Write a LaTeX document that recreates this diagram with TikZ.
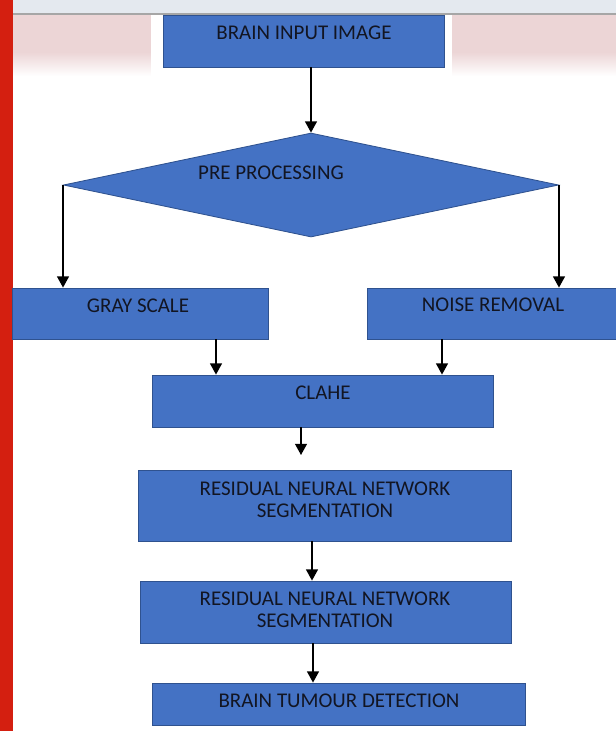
\documentclass[tikz,border=0pt]{standalone}
\usepackage{fontspec}
\setmainfont{Carlito}
\usetikzlibrary{shapes.geometric,arrows.meta,fit}
\definecolor{boxblue}{HTML}{4472C4}
\definecolor{boxline}{HTML}{2F528F}
\definecolor{barred}{HTML}{D41F10}
\definecolor{bandpink}{HTML}{ECD5D6}
\definecolor{stripgray}{HTML}{E4E9EF}
\definecolor{txtdark}{HTML}{121522}

\begin{document}
\begin{tikzpicture}[x=0.025cm,y=-0.025cm]
		%\draw[help lines] (0,0) grid (616,731);
		\tikzset{
		box/.style 		= {draw=boxline, fill=boxblue, line width=0.6pt, inner sep=0pt},
		decision/.style = {diamond, draw=boxline, fill=boxblue, line width=0.6pt, inner sep=0pt},
		lbl/.style 		= {text=txtdark, font=\fontsize{14.9}{16}\selectfont, align=center, inner sep=0pt},
		arr/.style 		= {draw=black, line width=1.1pt, -{Triangle[length=8pt,width=8.5pt]}}}
		\useasboundingbox (0,0) rectangle (616,731);

		\fill[barred] (0,0) rectangle (13,731);
		\fill[stripgray] (13,0) rectangle (616,14);
		\draw[gray!70, line width=1pt] (13,14) -- (616,14);
		\fill[bandpink] (13,15) rectangle (616,52);
		\shade[top color=bandpink, bottom color=white] (13,52) rectangle (616,76);
		\fill[white] (151,15) rectangle (452,76);

		\node[box, fit={(163,15) (444,67)}] (input) {};
		\node[lbl] (input-t) at (304,33) {BRAIN INPUT IMAGE};

		\node[decision, minimum width=12.375cm, minimum height=2.6cm] (pre) at (311,185) {};
		\node[lbl] (pre-t) at (271,173) {PRE PROCESSING};

		\node[box, fit={(12,288) (268,339)}] (gray) {};
		\node[lbl] (gray-t) at (138,306) {GRAY SCALE};
		\node[box, fit={(367,288) (620,339)}] (noise) {};
		\node[lbl] (noise-t) at (493,305) {NOISE REMOVAL};

		\node[box, fit={(152,375) (493,427)}] (clahe) {};
		\node[lbl] (clahe-t) at (323,393) {CLAHE};

		\node[box, fit={(138,470) (511,541)}] (res1) {};
		\node[lbl] (res1-t) at (325,500) {RESIDUAL NEURAL NETWORK\\SEGMENTATION};
		\node[box, fit={(140,581) (511,643)}] (res2) {};
		\node[lbl] (res2-t) at (325,610) {RESIDUAL NEURAL NETWORK\\SEGMENTATION};

		\node[box, fit={(152,683) (525,725)}] (detect) {};
		\node[lbl] (detect-t) at (339,701) {BRAIN TUMOUR DETECTION};

		\coordinate (clahe-end) at (301,455);

		\draw[arr] (input.south -| pre.north) -- (pre.north);
		\draw[arr] (pre.west) -- (pre.west |- gray.north);
		\draw[arr] (pre.east) -- (pre.east |- noise.north);
		\draw[arr] (gray.south -| 216,0) -- (clahe.north -| 216,0);
		\draw[arr] (noise.south -| 442,0) -- (clahe.north -| 442,0);
		\draw[arr] (clahe.south -| clahe-end) -- (clahe-end);
		\draw[arr] (res1.south -| 312,0) -- (res2.north -| 312,0);
		\draw[arr] (res2.south -| 313,0) -- (detect.north -| 313,0);
\end{tikzpicture}
\end{document}
